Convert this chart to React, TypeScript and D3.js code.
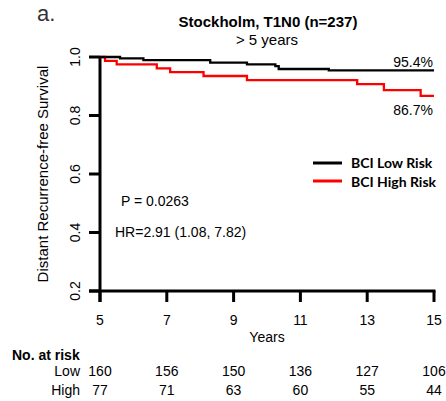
import React from "react";
import * as d3 from "d3";

const lowTimes = [5, 5.6, 6.3, 8.3, 9.4, 10.25, 10.35, 11.85, 15];
const lowSurv = [1, 0.995, 0.989, 0.981, 0.975, 0.969, 0.959, 0.954, 0.954];
const highTimes = [5, 5.15, 5.5, 6.7, 7.1, 8.1, 9.4, 12.7, 13.5, 14.6, 15];
const highSurv = [1, 0.987, 0.975, 0.961, 0.948, 0.935, 0.921, 0.907, 0.887, 0.867, 0.867];

const xTicks = [5, 7, 9, 11, 13, 15];
const yTicks = [0.2, 0.4, 0.6, 0.8, 1.0];
const riskLow = [160, 156, 150, 136, 127, 106];
const riskHigh = [77, 71, 63, 60, 55, 44];

const title = "Stockholm, T1N0 (n=237)";
const subtitle = "> 5 years";
const endLabels = ["95.4%", "86.7%"];

export default function App() {
  const x = d3.scaleLinear().domain([5, 15]).range([100, 434]);
  const y = d3.scaleLinear().domain([0.2, 1.0]).range([291, 57]);
  const line = d3
    .line<[number, number]>()
    .x((d) => x(d[0]))
    .y((d) => y(d[1]))
    .curve(d3.curveStepAfter);
  const lowPts = lowTimes.map((t, i) => [t, lowSurv[i]] as [number, number]);
  const highPts = highTimes.map((t, i) => [t, highSurv[i]] as [number, number]);
  const font = "Liberation Sans, Arial, sans-serif";
  const x0 = x(5);
  const yb = y(0.2);

  return (
    <svg
      width={446}
      height={401}
      style={{ position: "absolute", left: 0, top: 0, background: "#fff" }}
      fontFamily={font}
    >
      <rect width={446} height={401} fill="#fff" />
      <text x={37} y={21} fontSize={22} fill="#333">a.</text>
      <text x={268} y={27} fontSize={15} fontWeight="bold" textAnchor="middle">{title}</text>
      <text x={267} y={45} fontSize={15} textAnchor="middle">{subtitle}</text>

      {/* axes */}
      <line x1={x0} x2={x0} y1={y(1.0) - 1} y2={yb + 11} stroke="#000" strokeWidth={3} />
      <line x1={x0 - 11} x2={x(15) + 1.5} y1={yb} y2={yb} stroke="#000" strokeWidth={3} />
      {yTicks.map((t) => (
        <g key={t}>
          <line x1={x0 - 11} x2={x0} y1={y(t)} y2={y(t)} stroke="#000" strokeWidth={3} />
          <text
            transform={`translate(80,${y(t)}) rotate(-90)`}
            textAnchor="middle"
            fontSize={14}
          >
            {t.toFixed(1)}
          </text>
        </g>
      ))}
      {xTicks.map((t) => (
        <g key={t}>
          <line x1={x(t)} x2={x(t)} y1={yb} y2={yb + 11} stroke="#000" strokeWidth={3} />
          <text x={x(t)} y={325} textAnchor="middle" fontSize={14}>{t}</text>
        </g>
      ))}
      <text x={267} y={342} textAnchor="middle" fontSize={14}>Years</text>
      <text
        transform={`translate(48,174) rotate(-90)`}
        textAnchor="middle"
        fontSize={15}
      >
        Distant Recurrence-free Survival
      </text>

      {/* curves */}
      <path d={line(highPts) || ""} fill="none" stroke="#ff0000" strokeWidth={2.3} />
      <path d={line(lowPts) || ""} fill="none" stroke="#000" strokeWidth={2.3} />
      <text x={433} y={67} textAnchor="end" fontSize={14}>{endLabels[0]}</text>
      <text x={433} y={115} textAnchor="end" fontSize={14}>{endLabels[1]}</text>

      {/* legend */}
      <line x1={313} x2={342} y1={163} y2={163} stroke="#000" strokeWidth={3} />
      <text x={351} y={168} fontSize={14} fontWeight="bold" fontFamily="Lato, sans-serif">BCI Low Risk</text>
      <line x1={313} x2={342} y1={181} y2={181} stroke="#ff0000" strokeWidth={3} />
      <text x={351} y={187} fontSize={14} fontWeight="bold" fontFamily="Lato, sans-serif">BCI High Risk</text>

      <text x={121} y={206} fontSize={14}>P = 0.0263</text>
      <text x={115} y={237} fontSize={14}>HR=2.91 (1.08, 7.82)</text>

      {/* at risk */}
      <text x={12} y={360} fontSize={14} fontWeight="bold">No. at risk</text>
      <text x={80} y={376} fontSize={14} textAnchor="end">Low</text>
      <text x={80} y={395} fontSize={14} textAnchor="end">High</text>
      {riskLow.map((v, i) => (
        <text key={"l" + i} x={x(xTicks[i])} y={376} textAnchor="middle" fontSize={14}>{v}</text>
      ))}
      {riskHigh.map((v, i) => (
        <text key={"h" + i} x={x(xTicks[i])} y={395} textAnchor="middle" fontSize={14}>{v}</text>
      ))}
    </svg>
  );
}
